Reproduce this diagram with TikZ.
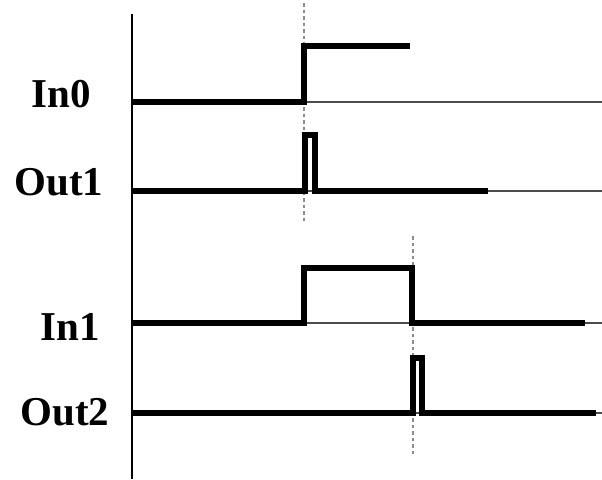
\documentclass[tikz,border=0pt]{standalone}
\usepackage{fontspec}
\setmainfont{Liberation Serif}
\tikzset{
  wave/.style={line width=6.5pt, line join=miter},
  refline/.style={line width=1.3pt, black!70},
  guide/.style={line width=1.4pt, black!45, dash pattern=on 3.5pt off 3pt},
  sig/.style={font=\fontsize{41}{49}\selectfont\bfseries, anchor=base, inner sep=0pt}
}
\begin{document}
\begin{tikzpicture}[x=1pt,y=-1pt]
	\useasboundingbox (0,0) rectangle (602,479);
	% thin reference lines
	\draw[refline] (132,102) -- (602,102);
	\draw[refline] (132,191) -- (602,191);
	\draw[refline] (132,323) -- (602,323);
	\draw[refline] (132,413) -- (602,413);
	\draw[line width=2.5pt] (132,14) -- (132,479);
	\draw[guide] (304,3) -- (304,221);
	\draw[guide] (413,236) -- (413,455);
	% signals
	\draw[wave] (132,102) -- (304,102) -- (304,46) -- (410,46);
	\draw[wave] (132,191) -- (305,191) -- (305,135) -- (315,135) -- (315,191) -- (488,191);
	\draw[wave] (132,323) -- (304,323) -- (304,268) -- (412,268) -- (412,323) -- (585,323);
	\draw[wave] (132,413) -- (413,413) -- (413,358) -- (422,358) -- (422,413) -- (596,413);
	% labels
	\node[sig] (in0) at (61,107) {In0};
	\node[sig] (out1) at (59,195) {Out1};
	\node[sig] (in1) at (70,340) {In1};
	\node[sig] (out2) at (65,425) {Out2};
\end{tikzpicture}
\end{document}
